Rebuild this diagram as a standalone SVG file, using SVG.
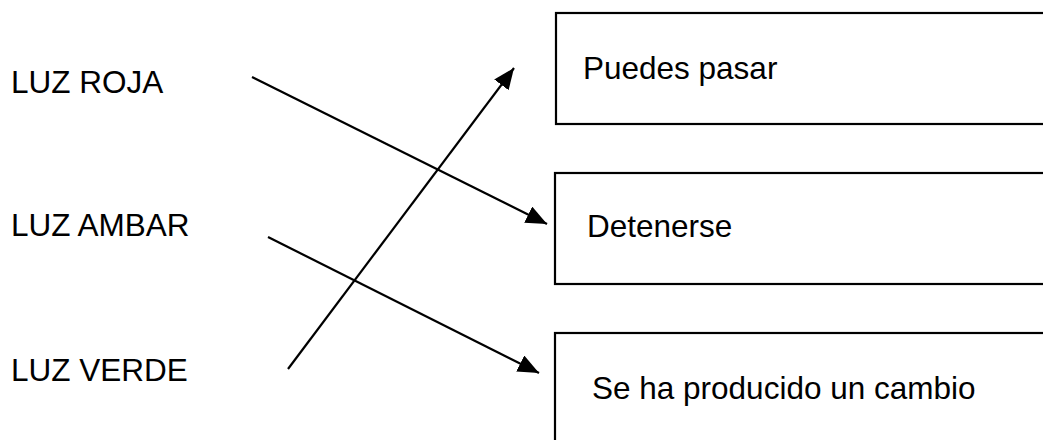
<svg xmlns="http://www.w3.org/2000/svg" width="1043" height="440" viewBox="0 0 1043 440">
  <style>
    .lbl { font-family: "Liberation Sans", Arial, sans-serif; font-size: 31.5px; fill: #000; }
    .box { fill: #fff; stroke: #000; stroke-width: 2.2; }
    .conn { stroke: #000; stroke-width: 2.2; fill: none; }
  </style>
  <defs>
    <marker id="arrow" markerUnits="userSpaceOnUse" markerWidth="24" markerHeight="20" refX="21" refY="9" orient="auto">
      <path d="M0,0 L21,9 L0,18 Z" fill="#000"/>
    </marker>
  </defs>
  <rect width="1043" height="440" fill="#fff"/>
  <g id="luz-roja"><text class="lbl" x="11" y="93">LUZ ROJA</text></g>
  <g id="luz-ambar"><text class="lbl" x="11" y="236">LUZ AMBAR</text></g>
  <g id="luz-verde"><text class="lbl" x="11" y="381">LUZ VERDE</text></g>
  <g id="puedes-pasar">
    <rect class="box" x="556" y="13" width="500" height="111"/>
    <text class="lbl" x="583" y="79">Puedes pasar</text>
  </g>
  <g id="detenerse">
    <rect class="box" x="555" y="173" width="500" height="111"/>
    <text class="lbl" x="587" y="237">Detenerse</text>
  </g>
  <g id="cambio">
    <rect class="box" x="555" y="333" width="500" height="120"/>
    <text class="lbl" x="592" y="399">Se ha producido un cambio</text>
  </g>
  <g id="connectors">
    <line class="conn" x1="252" y1="77" x2="547" y2="224" marker-end="url(#arrow)"/>
    <line class="conn" x1="268" y1="237" x2="539" y2="373" marker-end="url(#arrow)"/>
    <line class="conn" x1="288" y1="369" x2="514" y2="68" marker-end="url(#arrow)"/>
  </g>
</svg>
